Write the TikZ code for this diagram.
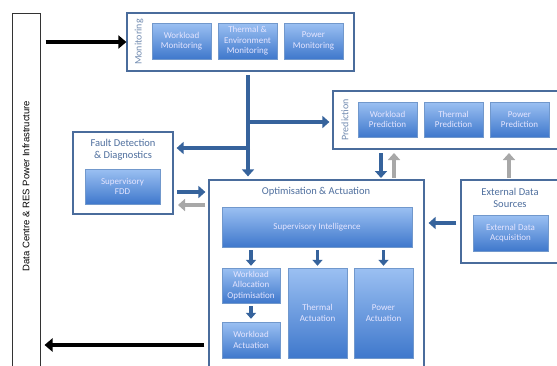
\documentclass[tikz,border=0pt]{standalone}
\usepackage{fontspec}
\setmainfont{Carlito}
\newfontfamily\infrafont{Liberation Sans}
\usetikzlibrary{arrows.meta,shadows,calc}
\definecolor{frameblue}{HTML}{4A6C9C}
\definecolor{arrowblue}{HTML}{36639C}
\definecolor{titleblue}{HTML}{4F6F9E}
\definecolor{boxtop}{HTML}{9BC0F2}
\definecolor{boxbot}{HTML}{3F78CC}
\definecolor{boxline}{HTML}{7198CC}
\definecolor{arrowgray}{HTML}{A8A8A8}
\tikzset{
  group/.style={draw=frameblue, line width=1.2pt, fill=white, inner sep=0pt},
  unit/.style={draw=boxline, line width=0.4pt, top color=boxtop, bottom color=boxbot,
    drop shadow={shadow xshift=1pt, shadow yshift=-1.2pt, opacity=0.35},
    text=white!90!blue, font=\fontsize{9}{10.5}\selectfont, align=center, inner sep=0pt},
  grouptitle/.style={text=titleblue, font=\fontsize{10.5}{12}\selectfont, align=center},
  sidelabel/.style={text=titleblue!80!white, font=\fontsize{10}{11}\selectfont, rotate=90},
  flow/.style={draw=arrowblue, line width=4pt, -{Triangle[length=7pt,width=12pt]}},
  smallflow/.style={draw=arrowblue, line width=3.5pt, -{Triangle[length=6pt,width=10pt]}},
  backflow/.style={draw=arrowgray, line width=4pt, -{Triangle[length=7pt,width=12pt]}},
  plantflow/.style={draw=black, line width=4.5pt, -{Triangle[length=8pt,width=13pt]}},
}
\begin{document}
\begin{tikzpicture}[x=1pt,y=-1pt]
\useasboundingbox (0,0) rectangle (557,365);
\begin{scope}
\clip (0,0) rectangle (557,365);

% plant
\node[draw=black!80, line width=1pt, minimum width=28pt, minimum height=360pt, inner sep=0pt] (dc) at (26,193) {};
\node[rotate=90, font=\infrafont\fontsize{9.5}{10}\selectfont] (dclabel) at (26,186) {Data Centre \& RES Power Infrastructure};

% monitoring
\node[group, minimum width=227pt, minimum height=58pt] (mon) at (240.5,42) {};
\node[sidelabel] (monlabel) at (139,42) {Monitoring};
\node[unit, minimum width=59pt, minimum height=36pt] (wm) at (181.5,41) {Workload\\Monitoring};
\node[unit, minimum width=59pt, minimum height=36pt] (tm) at (247.5,41) {Thermal \&\\Environment\\Monitoring};
\node[unit, minimum width=59pt, minimum height=36pt] (pm) at (313.5,41) {Power\\Monitoring};

% prediction
\node[group, minimum width=226pt, minimum height=58pt] (pred) at (446,120) {};
\node[sidelabel] (predlabel) at (345,120) {Prediction};
\node[unit, minimum width=59pt, minimum height=35pt] (wp) at (387.5,119.5) {Workload\\Prediction};
\node[unit, minimum width=59pt, minimum height=35pt] (tp) at (453.5,119.5) {Thermal\\Prediction};
\node[unit, minimum width=59pt, minimum height=35pt] (pp) at (519.5,119.5) {Power\\Prediction};

% fault detection
\node[group, minimum width=100pt, minimum height=82pt] (fault) at (123,173) {};
\node[grouptitle] (faulttitle) at (123,149.5) {Fault Detection\\\& Diagnostics};
\node[unit, minimum width=75pt, minimum height=35pt] (fdd) at (122.5,186.5) {Supervisory\\FDD};

% optimisation & actuation
\node[group, minimum width=215pt, minimum height=195pt] (opt) at (316.5,277.5) {};
\node[grouptitle] (opttitle) at (316,192) {Optimisation \& Actuation};
\node[unit, minimum width=190pt, minimum height=40pt] (si) at (317,227) {Supervisory Intelligence};
\node[unit, minimum width=58pt, minimum height=35pt] (wao) at (251,285.5) {Workload\\Allocation\\Optimisation};
\node[unit, minimum width=58pt, minimum height=36pt] (wa) at (251,340) {Workload\\Actuation};
\node[unit, minimum width=59pt, minimum height=90pt] (ta) at (317.5,313) {Thermal\\Actuation};
\node[unit, minimum width=59pt, minimum height=90pt] (pa) at (383.5,313) {Power\\Actuation};

% external data
\node[group, minimum width=99pt, minimum height=83pt] (ext) at (510.5,221.5) {};
\node[grouptitle] (exttitle) at (510,198) {External Data\\Sources};
\node[unit, minimum width=75pt, minimum height=36pt] (eda) at (510.5,233) {External Data\\Acquisition};

% junctions of the monitoring bus
\coordinate (bus) at (248,75);
\coordinate (busp) at (248,122);
\coordinate (busf) at (248,148);

% monitoring bus
\draw[flow] (bus) -- ([yshift=3pt]bus |- opt.north);
\draw[flow] ([xshift=-2pt]busp) -- ([xshift=-3pt]pred.west |- busp);
\draw[flow] ([xshift=2pt]busf) -- ([xshift=3pt]fault.east |- busf);

% fault detection <-> optimisation
\draw[flow] (177,192) -- ([xshift=-3pt]opt.west |- 0,192);
\draw[backflow] ([xshift=-3pt]opt.west |- 0,205) -- (178,205);

% prediction <-> optimisation
\draw[flow] (381,153) -- (381,178);
\draw[backflow] (394,178) -- (394,153);
\draw[backflow] (509,178) -- (509,153);

% external data -> optimisation
\draw[flow] ([xshift=-4pt]ext.west |- 0,223) -- ([xshift=4pt]opt.east |- 0,223);

% internal flows
\draw[smallflow] ([yshift=-3pt]si.south -| wao) -- ([yshift=2pt]wao.north);
\draw[smallflow] ([yshift=-3pt]si.south -| ta) -- ([yshift=2pt]ta.north);
\draw[smallflow] ([yshift=-3pt]si.south -| pa) -- ([yshift=2pt]pa.north);
\draw[smallflow] ([yshift=-3pt]wao.south) -- ([yshift=3pt]wa.north);

% plant interface
\draw[plantflow] ([xshift=5pt]dc.east |- mon) -- (mon.west);
\draw[plantflow] ([xshift=-4pt]opt.west |- 0,345) -- ([xshift=4pt]dc.east |- 0,345);
\end{scope}
\end{tikzpicture}
\end{document}
